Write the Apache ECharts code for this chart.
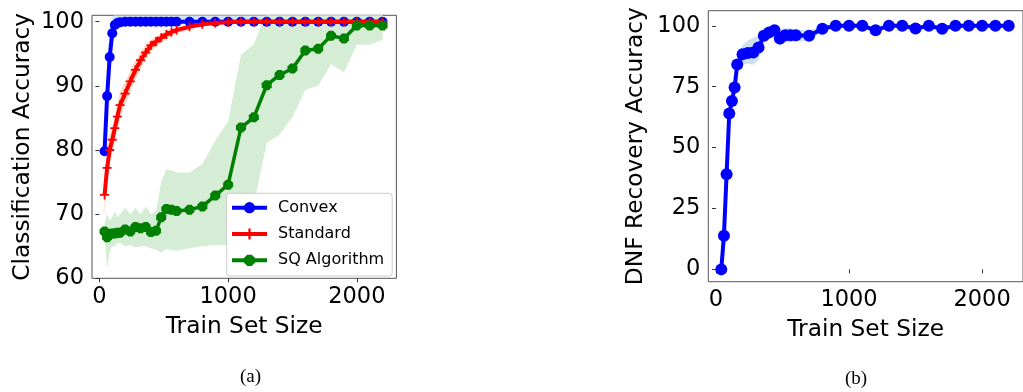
<!DOCTYPE html>
<html>
<head>
<meta charset="utf-8">
<script src="https://cdn.jsdelivr.net/npm/echarts@6/dist/echarts.min.js"></script>
<style>
html,body{margin:0;padding:0;background:#fff;}
#c{width:1023px;height:392px;}
</style>
</head>
<body>
<div id="c"></div>
<script>
// ---------- data: panel (a) ----------
const xA = [40,60,80,100,120,140,160,200,240,280,320,360,400,440,480,520,560,600,700,800,900,1000,1100,1200,1300,1400,1500,1600,1700,1800,1900,2000,2100,2200];
const convex      = [79.8,88.4,94.5,98.2,99.5,99.8,99.9,100,100,100,100,100,100,100,100,100,100,100,100,100,100,100,100,100,100,100,100,100,100,100,100,100,100,100];
const convexLo    = [78.0,86.0,92.0,97.0,99.0,99.6,99.8,99.9,99.9,99.9,99.9,99.9,99.9,99.9,99.9,99.9,99.9,99.9,99.9,99.9,99.9,99.9,99.9,99.9,99.9,99.9,99.9,99.9,99.9,99.9,99.9,99.9,99.9,99.9];
const convexHi    = [82.0,94.0,99.0,100.8,101.2,101.2,101.2,101.2,101.2,101.2,101.2,101.2,101.2,101.2,101.2,101.2,101.2,101.2,101.2,101.2,101.2,101.2,101.2,101.2,101.2,101.2,101.2,101.2,101.2,101.2,101.2,101.2,101.2,101.2];
const standard    = [73.0,77.2,80.0,81.6,83.4,85.2,87.0,88.8,90.7,92.5,94.0,95.2,96.3,96.9,97.5,98.0,98.4,98.7,99.2,99.6,99.8,99.9,100,100,100,100,100,100,100,100,100,100,100,100];
const standardLo  = [69.8,74.5,77.8,79.6,81.4,83.2,85.0,87.0,89.0,91.0,92.6,94.0,95.3,96.0,96.7,97.3,97.8,98.2,98.8,99.3,99.6,99.8,99.9,99.9,99.9,99.9,99.9,99.9,99.9,99.9,99.9,99.9,99.9,99.9];
const standardHi  = [76.0,80.0,82.5,83.6,85.4,87.2,89.0,90.6,92.4,94.0,95.3,96.4,97.2,97.7,98.2,98.6,98.9,99.2,99.6,99.9,100.0,100.1,100.1,100.1,100.1,100.1,100.1,100.1,100.1,100.1,100.1,100.1,100.1,100.1];
const sq          = [67.3,66.4,66.9,67.0,67.0,67.1,67.1,67.6,67.3,68.0,67.8,68.0,67.2,67.4,69.5,70.8,70.7,70.5,70.7,71.2,72.9,74.6,83.5,85.1,90.1,91.7,92.7,95.5,95.8,97.8,97.4,99.4,99.4,99.4];
const sqLo        = [66.5,61.5,64.0,65.0,65.0,65.5,65.5,65.0,65.2,64.8,65.0,65.0,64.7,64.5,64.0,64.6,64.4,64.3,64.7,65.0,65.2,65.1,67.0,71.5,81.1,82.4,85.2,89.4,90.0,93.4,92.1,96.4,96.4,97.2];
const sqHi        = [68.5,70.0,69.0,69.5,70.5,69.5,70.0,71.0,70.0,71.0,70.0,71.2,70.0,70.5,75.0,77.0,76.8,76.5,76.5,77.8,81.5,84.5,94.8,96.5,101.5,101.5,101.5,101.5,101.5,101.5,101.5,101.5,101.5,101.5];

// ---------- data: panel (b) ----------
const xB = [40,60,80,100,120,140,160,200,240,280,320,360,400,440,480,520,560,600,700,800,900,1000,1100,1200,1300,1400,1500,1600,1700,1800,1900,2000,2100,2200];
const dnf   = [0,13.8,39.1,64.0,69.1,74.7,84.1,88.3,88.8,89.0,91.1,95.9,97.3,98.2,94.8,96.1,96.1,96.1,95.9,98.8,100,100,100,98.2,100,100,98.9,100,98.8,100,100,100,100,100];
const dnfLo = [0,12.5,37.0,62.0,67.0,72.0,81.0,84.0,84.5,84.0,86.0,93.0,94.5,95.5,91.5,93.0,93.5,93.5,94.0,97.5,99.7,99.7,99.7,97.2,99.7,99.7,97.9,99.7,97.8,99.7,99.7,99.7,99.7,99.7];
const dnfHi = [0,15.0,41.0,66.0,71.0,77.0,87.0,92.0,94.0,95.0,96.0,99.0,100.0,100.5,98.0,99.0,99.0,98.5,98.0,100.0,100.3,100.3,100.3,99.2,100.3,100.3,99.9,100.3,99.8,100.3,100.3,100.3,100.3,100.3];

// tick values and labels
const xTicks = [0,1000,2000];
const yTicksA = [60,70,80,90,100];
const yTicksB = [0,25,50,75,100];
const xTitle = 'Train Set Size';
const yTitleA = 'Classification Accuracy';
const yTitleB = 'DNF Recovery Accuracy';
const captions = ['(a)','(b)'];

// ---------- helpers ----------
const pairs = (xs, ys) => xs.map((x,i)=>[x, ys[i]]);
function band(name, xs, lo, hi, color, xi, yi){
  return {
    type:'custom', name:name, xAxisIndex:xi, yAxisIndex:yi, silent:true, z:1, clip:true,
    data: xs.map((x,i)=>[x, lo[i], hi[i]]),
    encode:{x:0, y:[1,2]},
    renderItem:function(params, api){
      if (params.dataIndex !== 0) return null;
      const top = [], bot = [];
      for (let i=0;i<xs.length;i++){
        top.push(api.coord([xs[i], hi[i]]));
        bot.push(api.coord([xs[i], lo[i]]));
      }
      const pts = top.concat(bot.reverse());
      const cs = params.coordSys;
      return {type:'polygon', shape:{points:pts}, style:{fill:color},
        clipPath:{type:'rect', shape:{x:cs.x, y:cs.y, width:cs.width, height:cs.height}}};
    }
  };
}
const FONT = 'DejaVu Sans';
const PLUS = 'path://M4,0L6,0L6,4L10,4L10,6L6,6L6,10L4,10L4,6L0,6L0,4L4,4Z';
const OCT = 'path://M3,0L7,0L10,3L10,7L7,10L3,10L0,7L0,3Z';

function xAxisCfg(gi){
  return {gridIndex:gi, type:'value', min:-57.5, max:2307.5,
    name:xTitle, nameLocation:'middle', nameGap:37,
    nameTextStyle:{fontFamily:FONT, fontSize:23.3, color:'#000'},
    axisLine:{show:false}, splitLine:{show:false},
    axisTick:{show:true, inside:false, length:4, customValues:xTicks, lineStyle:{color:'#333', width:1}},
    axisLabel:{customValues:xTicks, formatter:v=>String(v), fontFamily:FONT, fontSize:22.5, color:'#000', margin:7}};
}
function yAxisCfg(gi, min, max, ticks, title, gap){
  return {gridIndex:gi, type:'value', min:min, max:max,
    name:title, nameLocation:'middle', nameGap:gap, nameRotate:90,
    nameTextStyle:{fontFamily:FONT, fontSize:23.3, color:'#000'},
    axisLine:{show:false}, splitLine:{show:false},
    axisTick:{show:true, inside:false, length:4, customValues:ticks, lineStyle:{color:'#333', width:1}},
    axisLabel:{customValues:ticks, formatter:v=>String(v), fontFamily:FONT, fontSize:22.5, color:'#000', margin:8}};
}

const option = {
  backgroundColor:'#fff',
  animation:false,
  grid:[
    {left:92, top:15.3, width:304.4, height:263, show:true, borderColor:'#555', borderWidth:1, backgroundColor:'transparent'},
    {left:708.3, top:10.7, width:323.1, height:271, show:true, borderColor:'#555', borderWidth:1, backgroundColor:'transparent'}
  ],
  xAxis:[xAxisCfg(0), xAxisCfg(1)],
  yAxis:[yAxisCfg(0,60,101,yTicksA,yTitleA,58), yAxisCfg(1,-5.06,106.2,yTicksB,yTitleB,61)],
  legend:{
    data:['Convex','Standard','SQ Algorithm'], orient:'vertical', left:226.7, top:193.3,
    backgroundColor:'#fff', borderColor:'#ccc', borderWidth:1, borderRadius:3,
    padding:[6.4,8,7.7,3.3], itemWidth:35, itemHeight:14, itemGap:10.3,
    lineStyle:{width:4},
    textStyle:{fontFamily:FONT, fontSize:16, color:'#000', padding:[0,0,0,6]}
  },
  graphic:[
    {type:'text', left:240, top:368, style:{text:captions[0], font:'19px "Liberation Serif"', fill:'#000'}},
    {type:'text', left:845, top:370, style:{text:captions[1], font:'19px "Liberation Serif"', fill:'#000'}}
  ],
  series:[
    band('bConvex', xA, convexLo, convexHi, 'rgb(210,228,240)', 0, 0),
    band('bStd', xA, standardLo, standardHi, 'rgb(253,218,195)', 0, 0),
    band('bSq', xA, sqLo, sqHi, 'rgb(213,236,213)', 0, 0),
    {type:'line', name:'Convex', xAxisIndex:0, yAxisIndex:0, data:pairs(xA,convex),
     symbol:'circle', symbolSize:10, itemStyle:{color:'#0000ff'}, lineStyle:{color:'#0000ff', width:4}, z:3},
    {type:'line', name:'Standard', xAxisIndex:0, yAxisIndex:0, data:pairs(xA,standard),
     symbol:PLUS, symbolSize:9, itemStyle:{color:'#ff0000'}, lineStyle:{color:'#ff0000', width:4}, z:4},
    {type:'line', name:'SQ Algorithm', xAxisIndex:0, yAxisIndex:0, data:pairs(xA,sq),
     symbol:OCT, symbolSize:10, itemStyle:{color:'#008000'}, lineStyle:{color:'#008000', width:3.5}, z:5},
    band('bDnf', xB, dnfLo, dnfHi, 'rgb(205,224,238)', 1, 1),
    {type:'line', name:'DNF', xAxisIndex:1, yAxisIndex:1, data:pairs(xB,dnf),
     symbol:'circle', symbolSize:12, itemStyle:{color:'#0000ff'}, lineStyle:{color:'#0000ff', width:4}, z:3}
  ]
};
const chart = echarts.init(document.getElementById('c'), null, {renderer:'canvas'});
chart.setOption(option);
</script>
</body>
</html>
